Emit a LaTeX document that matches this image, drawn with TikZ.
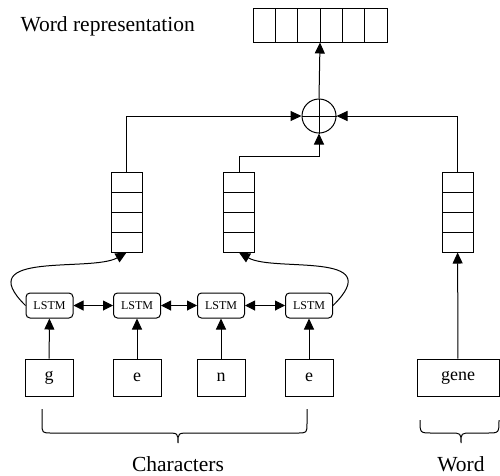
\documentclass[tikz,border=0pt]{standalone}
\usepackage{fontspec}
\setmainfont{Liberation Serif}
\usetikzlibrary{arrows.meta,calc}

\begin{document}
\begin{tikzpicture}[
    x=1pt, y=-1pt,
    line width=1pt,
    arrow/.style={-{Triangle[length=11pt,width=10pt]}},
    biarrow/.style={{Triangle[length=10pt,width=10pt]}-{Triangle[length=10pt,width=10pt]}},
    lstm/.style={rectangle, rounded corners=4pt, draw, minimum width=47pt, minimum height=25pt, inner sep=0pt, font=\fontsize{12}{14}\selectfont},
    charbox/.style={rectangle, draw, minimum width=48pt, minimum height=37pt, inner sep=0pt, font=\fontsize{18}{20}\selectfont},
    colvec/.style={rectangle, draw, minimum width=31pt, minimum height=80pt, inner sep=0pt,
        path picture={\foreach \k in {1,2,3}
            \draw ($(path picture bounding box.north west)!\k/4!(path picture bounding box.south west)$) --
                  ($(path picture bounding box.north east)!\k/4!(path picture bounding box.south east)$);}},
    rowvec/.style={rectangle, draw, minimum width=134pt, minimum height=34pt, inner sep=0pt,
        path picture={\foreach \k in {1,...,5}
            \draw ($(path picture bounding box.north west)!\k/6!(path picture bounding box.north east)$) --
                  ($(path picture bounding box.south west)!\k/6!(path picture bounding box.south east)$);}},
    bigtext/.style={font=\fontsize{21.5}{24}\selectfont, inner sep=0pt}
]
\useasboundingbox (0,0) rectangle (500,475);

% Nodes
\node (title) [bigtext, anchor=base west] at (20,31) {Word representation};
\node (wordvec) [rowvec] at (320,25) {};
\node (plus) [circle, draw, minimum size=34pt, inner sep=0pt] at (319,116) {};
\draw (plus.north) -- (plus.south) (plus.west) -- (plus.east);

\node (vecL) [colvec] at (126.5,212) {};
\node (vecM) [colvec] at (239,212) {};
\node (vecW) [colvec] at (457.5,212) {};

\node (l1) [lstm] at (49.5,305.5) {LSTM};
\node (l2) [lstm] at (137,305.5) {LSTM};
\node (l3) [lstm] at (221,305.5) {LSTM};
\node (l4) [lstm] at (309,305.5) {LSTM};

\node (c1) [charbox] at (49,377.5) {g};
\node (c2) [charbox] at (137,377.5) {e};
\node (c3) [charbox] at (221,377.5) {n};
\node (c4) [charbox] at (309,377.5) {e};
\node (gene) [charbox, minimum width=82pt] at (458,377.5) {gene};

\node (chars) [bigtext, anchor=base] at (178,471) {Characters};
\node (word) [bigtext, anchor=base] at (461,471) {Word};

% Arrows
\draw [arrow] (c1) -- (l1);
\draw [arrow] (c2) -- (l2);
\draw [arrow] (c3) -- (l3);
\draw [arrow] (c4) -- (l4);
\draw [arrow] (gene) -- (vecW);

\draw [biarrow] (l1) -- (l2);
\draw [biarrow] (l2) -- (l3);
\draw [biarrow] (l3) -- (l4);

\draw [arrow] (l1.west) .. controls +(-56,-55) and +(-35,20) .. (vecL.south);
\draw [arrow] (l4.east) .. controls +(56,-55) and +(35,20) .. (vecM.south);

\draw [arrow] (vecL.north) |- (plus.west);
\draw [arrow] (vecW.north) |- (plus.east);
\draw [arrow] (vecM.north) -- ++(0,-15) -| (plus.south);
\draw [arrow] (plus.north) -- (wordvec.south);

% Braces
\draw (42,409) -- (42,423) .. controls (42,433) .. (52,433) -- (166,433)
    .. controls (178,433) .. (178,443) .. controls (178,433) .. (190,433)
    -- (297,433) .. controls (307,433) .. (307,423) -- (307,409);
\draw (420,420) .. controls (420,433) .. (432,433) -- (450,433)
    .. controls (461,433) .. (461,443) .. controls (461,433) .. (472,433)
    -- (487,433) .. controls (499,433) .. (499,420);

\end{tikzpicture}
\end{document}
